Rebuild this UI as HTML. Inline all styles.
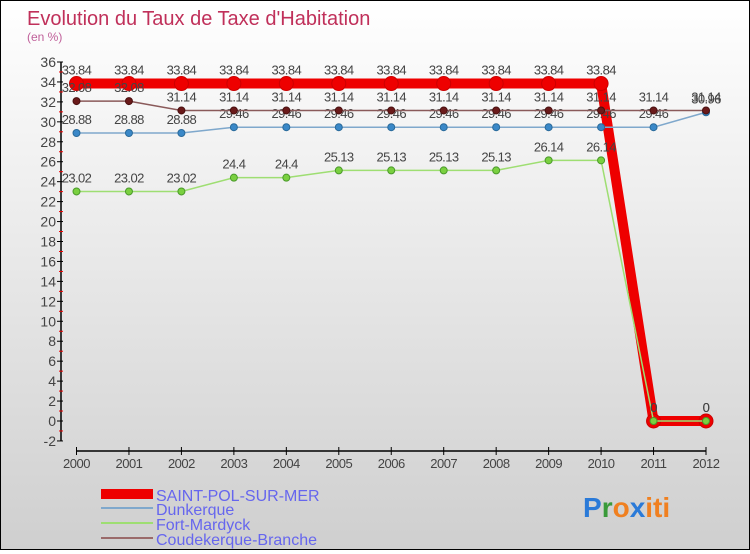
<!DOCTYPE html>
<html><head><meta charset="utf-8"><style>
body{margin:0}
#c{width:748px;height:548px;border:1px solid #000;background:linear-gradient(#ffffff,#cfcfcf);position:relative;font-family:"Liberation Sans",sans-serif}
svg text{font-family:"Liberation Sans",sans-serif}
</style></head><body>
<div id="c">
<svg id="s" width="748" height="548" xmlns="http://www.w3.org/2000/svg">
<text x="26" y="24" font-size="20" fill="#c0305a">Evolution du Taux de Taxe d'Habitation</text>
<text x="26" y="40" font-size="12" fill="#c0609a">(en %)</text>
<g id="axes"></g><g id="marks"></g>
<g>
<rect x="100" y="488" width="52" height="10" fill="#e00"/>
<text x="155" y="500" font-size="16" fill="#6666ee">SAINT-POL-SUR-MER</text>
<line x1="100" y1="507" x2="152" y2="507" stroke="#7fa8cc" stroke-width="2"/>
<text x="155" y="514" font-size="16" fill="#6666ee">Dunkerque</text>
<line x1="100" y1="522" x2="152" y2="522" stroke="#9ede72" stroke-width="2"/>
<text x="155" y="529" font-size="16" fill="#6666ee">Fort-Mardyck</text>
<line x1="100" y1="537" x2="152" y2="537" stroke="#9a6a6a" stroke-width="2"/>
<text x="155" y="544" font-size="16" fill="#6666ee">Coudekerque-Branche</text>
</g>
<text x="582" y="516" font-size="28" font-weight="bold"><tspan fill="#2a7ad8">P</tspan><tspan fill="#3a9a3a">r</tspan><tspan fill="#f08020">o</tspan><tspan fill="#2a7ad8">x</tspan><tspan fill="#f08020">iti</tspan></text>
</svg></div>
<script>
const years=[2000,2001,2002,2003,2004,2005,2006,2007,2008,2009,2010,2011,2012];
const yTicks=[-2,0,2,4,6,8,10,12,14,16,18,20,22,24,26,28,30,32,34,36];
const saintPol=[33.84,33.84,33.84,33.84,33.84,33.84,33.84,33.84,33.84,33.84,33.84,0,0];
const dunkerque=[28.88,28.88,28.88,29.46,29.46,29.46,29.46,29.46,29.46,29.46,29.46,29.46,30.96];
const fortMardyck=[23.02,23.02,23.02,24.4,24.4,25.13,25.13,25.13,25.13,26.14,26.14,0,0];
const coudekerque=[32.08,32.08,31.14,31.14,31.14,31.14,31.14,31.14,31.14,31.14,31.14,31.14,31.14];
const NS='http://www.w3.org/2000/svg';
const xS=i=>75.5+i*(705-75.5)/12;
const yS=v=>420-v*(359/36);
function mk(t,a,p){const e=document.createElementNS(NS,t);for(const k in a)e.setAttribute(k,a[k]);p.appendChild(e);return e;}
const ax=document.getElementById('axes'),mg=document.getElementById('marks');
let e=mk('line',{x1:60,y1:yS(36),x2:60,y2:yS(-2),stroke:'#000','stroke-width':1.5},ax);


yTicks.forEach(v=>{
 mk('line',{x1:56,y1:yS(v),x2:62,y2:yS(v),stroke:'#000'},ax);
 if(v<36) mk('line',{x1:58,y1:yS(v+1),x2:62,y2:yS(v+1),stroke:'#e00'},ax);
 const t=mk('text',{x:55,y:yS(v)+5,'font-size':14,fill:'#444','text-anchor':'end'},ax);t.textContent=v;
 
 
});
e=mk('line',{x1:75.5,y1:450,x2:705,y2:450,stroke:'#000','stroke-width':1.5},ax);


years.forEach((y,i)=>{
 mk('line',{x1:xS(i),y1:446,x2:xS(i),y2:454,stroke:'#000'},ax);
 const t=mk('text',{x:xS(i),y:467,'font-size':13,fill:'#444','text-anchor':'middle','letter-spacing':'-0.5'},ax);t.textContent=y;
 
 
});
function series(d,name,col,w,r,fill,stroke,sw,lab){
 const g=mk('g',{},mg);
 
 
 mk('polyline',{points:d.map((v,i)=>xS(i)+','+yS(v)).join(' '),fill:'none',stroke:col,'stroke-width':w},g);
 d.forEach((v,i)=>{
  const c=mk('circle',{cx:xS(i),cy:yS(v),r:r,fill:fill,stroke:stroke,'stroke-width':sw},g);
  
  
  if(lab){const t=mk('text',{x:xS(i),y:yS(v)-9,'font-size':13,fill:'#444','text-anchor':'middle','letter-spacing':'-0.6'},g);t.textContent=v;
  
  }
 });
}
series(saintPol,'saint-pol','#e00',10,7,'#e00','#c00',1,false);
series(dunkerque,'dunkerque','#7fa8cc',1.5,3.5,'#3a88c8','#2a6a9a',1,true);
series(coudekerque,'coudekerque','#8a5a5a',1.5,3.5,'#6a1a1a','#4a1010',1,true);
series(fortMardyck,'fort-mardyck','#9ede72',1.5,3.5,'#7ad040','#4a9a2a',1,true);
saintPol.forEach((v,i)=>{const t=mk('text',{x:xS(i),y:yS(v)-9,'font-size':13,fill:'#444','text-anchor':'middle','letter-spacing':'-0.6'},mg);t.textContent=v;
 
 });
</script>
</body></html>
